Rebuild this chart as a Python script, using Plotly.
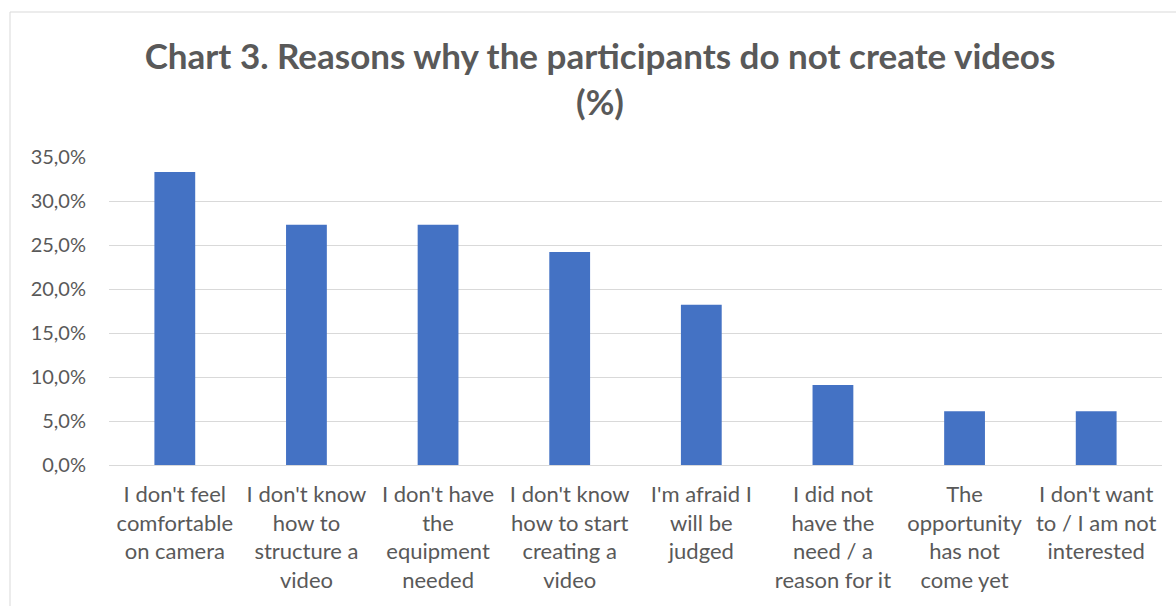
import plotly.graph_objects as go

categories = [
    "I don't feel<br>comfortable<br>on camera",
    "I don't know<br>how to<br>structure a<br>video",
    "I don't have<br>the<br>equipment<br>needed",
    "I don't know<br>how to start<br>creating a<br>video",
    "I'm afraid I<br>will be<br>judged",
    "I did not<br>have the<br>need / a<br>reason for it",
    "The<br>opportunity<br>has not<br>come yet",
    "I don't want<br>to / I am not<br>interested",
]
values = [33.3, 27.3, 27.3, 24.2, 18.2, 9.1, 6.1, 6.1]
tick_vals = [0, 5, 10, 15, 20, 25, 30, 35]
tick_text = [f"{v:.1f}%".replace(".", ",") for v in tick_vals]

FONT = "Lato"
GRAY = "#595959"

fig = go.Figure(go.Bar(x=categories, y=values, marker_color="#4472C4", marker_line_width=0))

L, R, T, B = 109, 14, 157, 141
W, H = 1176, 606
pw, ph = W - L - R, H - T - B

fig.update_layout(
    width=W, height=H,
    margin=dict(l=L, r=R, t=T, b=B, autoexpand=False),
    paper_bgcolor="white", plot_bgcolor="white",
    bargap=0.69,
    showlegend=False,
    font=dict(family=FONT, color=GRAY),
    title=dict(
        text="<b>Chart 3. Reasons why the participants do not create videos<br>(%)</b>",
        x=600 / W, xref="container", xanchor="center",
        y=1 - 69 / H, yanchor="top",
        font=dict(family=FONT, size=35, color=GRAY),
    ),
    yaxis=dict(
        range=[0, 35], tickvals=tick_vals, ticktext=tick_text,
        showgrid=True, gridcolor="#D9D9D9", gridwidth=1,
        zeroline=True, zerolinecolor="#D9D9D9", zerolinewidth=1,
        showline=False, ticks="", tickfont=dict(size=20, color=GRAY, family=FONT),
        ticklabelstandoff=22,
    ),
    xaxis=dict(
        showline=False, ticks="", tickangle=0,
        tickfont=dict(size=22, color=GRAY, family=FONT),
        ticklabelstandoff=14,
    ),
)

# chart frame
fig.add_shape(
    type="rect", xref="paper", yref="paper",
    x0=(10 - L) / pw, x1=(W + 20 - L) / pw,
    y0=-(H + 20 - (T + ph)) / ph, y1=(T + ph - 12) / ph,
    line=dict(color="#D9D9D9", width=1), fillcolor="rgba(0,0,0,0)", layer="below",
)

fig.write_html("out.html", config={"displayModeBar": False},
               post_script="document.body.style.margin='0';")
